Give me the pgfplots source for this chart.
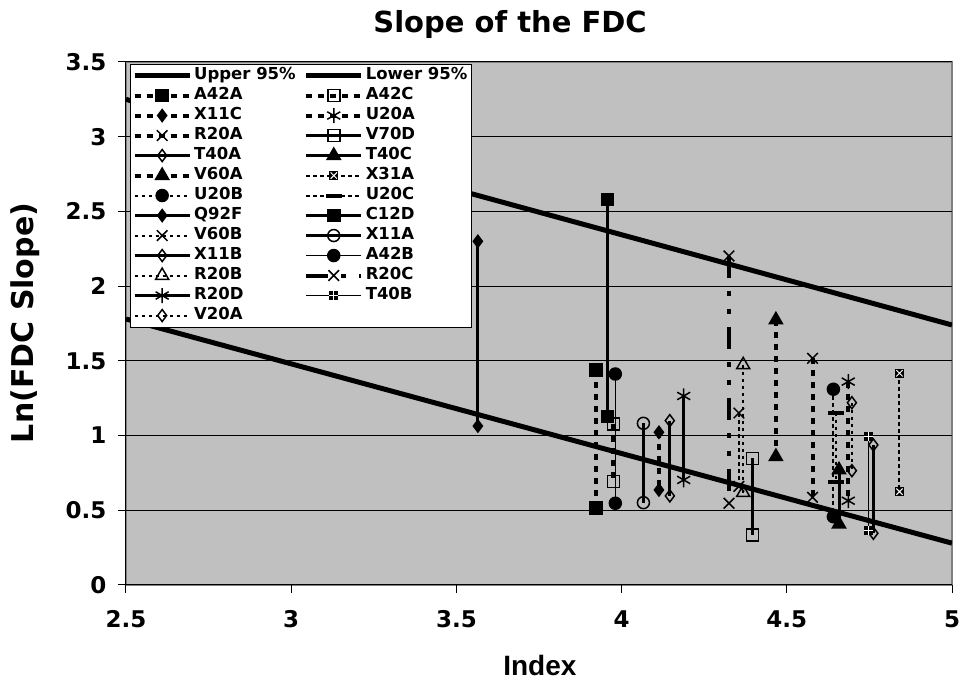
\documentclass[border=0pt]{standalone}
\usepackage{fontspec}
\setmainfont{DejaVu Sans}
\newfontfamily\arialfont{Liberation Sans}
\usepackage{pgfplots}
\pgfplotsset{compat=1.18}

\definecolor{plotbg}{RGB}{192,192,192}
\definecolor{boxgray}{RGB}{128,128,128}

% black square with a white x (X31A) and with a white + (T40B)
\pgfdeclareplotmark{xsq}{%
  \pgfpathrectangle{\pgfpoint{-\pgfplotmarksize}{-\pgfplotmarksize}}{\pgfpoint{2\pgfplotmarksize}{2\pgfplotmarksize}}%
  \pgfusepathqfill
  \begin{pgfscope}
  \pgfsetstrokecolor{white}\pgfsetlinewidth{1pt}%
  \pgfpathmoveto{\pgfpoint{-0.7\pgfplotmarksize}{-0.7\pgfplotmarksize}}%
  \pgfpathlineto{\pgfpoint{0.7\pgfplotmarksize}{0.7\pgfplotmarksize}}%
  \pgfpathmoveto{\pgfpoint{-0.7\pgfplotmarksize}{0.7\pgfplotmarksize}}%
  \pgfpathlineto{\pgfpoint{0.7\pgfplotmarksize}{-0.7\pgfplotmarksize}}%
  \pgfusepathqstroke
  \end{pgfscope}}
\pgfdeclareplotmark{psq}{%
  \pgfpathrectangle{\pgfpoint{-\pgfplotmarksize}{-\pgfplotmarksize}}{\pgfpoint{2\pgfplotmarksize}{2\pgfplotmarksize}}%
  \pgfusepathqfill
  \begin{pgfscope}
  \pgfsetstrokecolor{white}\pgfsetlinewidth{1pt}%
  \pgfpathmoveto{\pgfpoint{-\pgfplotmarksize}{0pt}}%
  \pgfpathlineto{\pgfpoint{\pgfplotmarksize}{0pt}}%
  \pgfpathmoveto{\pgfpoint{0pt}{\pgfplotmarksize}}%
  \pgfpathlineto{\pgfpoint{0pt}{-\pgfplotmarksize}}%
  \pgfusepathqstroke
  \end{pgfscope}}

\newcommand\tickf{\fontsize{23pt}{27pt}\selectfont\bfseries}
\newcommand\legf{\fontsize{16.5pt}{19pt}\selectfont\bfseries}

\pgfplotsset{
  ci/.style={black, line width=5pt, mark=none},
  sol/.style={black, line width=3pt, solid},
  thn/.style={black, line width=1.5pt, solid},
  dsh/.style={black, line width=4pt, dash pattern=on 6pt off 6pt},
  dot/.style={black, line width=2pt, dash pattern=on 3.5pt off 3.5pt},
  mk/.style={mark options={solid, line width=1.5pt, fill=black}, mark size=6pt},
}

\begin{document}
\begin{tikzpicture}[x=1pt,y=1pt]
\useasboundingbox (-126,-97) rectangle (835,585);
\begin{axis}[
    at={(0,0)}, anchor=south west,
    width=826pt, height=523pt, scale only axis,
    xmin=2.5, xmax=5, ymin=0, ymax=3.5,
    xtick={2.5,3,3.5,4,4.5,5},
    ytick={0,0.5,1,1.5,2,2.5,3,3.5},
    axis x line*=bottom, axis y line*=left,
    tick align=outside,
    major tick length=8pt,
    tick style={black, line width=1pt},
    axis line style={black, line width=1pt},
    axis background/.style={fill=plotbg, draw=boxgray, line width=1.5pt},
    ymajorgrids=true,
    grid style={black, line width=1pt},
    /pgf/number format/assume math mode=true,
    tick label style={font=\tickf},
    xticklabel style={yshift=-14pt},
    yticklabel style={xshift=-8pt},
    title={Slope of the FDC},
    title style={font=\fontsize{29pt}{34pt}\selectfont\bfseries, at={(axis description cs:0.465,1.06)}, anchor=center},
    xlabel={Index},
    xlabel style={font=\arialfont\fontsize{28pt}{32pt}\selectfont\bfseries, at={(axis description cs:0.501,-0.153)}, anchor=center},
    ylabel={Ln(FDC Slope)},
    ylabel style={font=\fontsize{30pt}{34pt}\selectfont\bfseries, at={(axis description cs:-0.1223,0.501)}, anchor=center},
    legend columns=2,
    legend cell align=left,
    legend image code/.code={\draw[mark repeat=2,mark phase=2] plot coordinates {(0pt,0pt) (27.5pt,0pt) (55pt,0pt)};},
    legend style={at={(rel axis cs:0.0048,0.996)}, anchor=north west, font=\legf,
      draw=black, fill=white, inner xsep=2pt, inner ysep=2pt, row sep=1.5pt,
      nodes={inner xsep=2pt, inner ysep=1.5pt, text height=12pt, text depth=3.5pt},
      /tikz/every even column/.append style={column sep=6pt}},
  ]

\addplot[ci] coordinates {(2.5,3.25) (5,1.74)};
\addlegendentry{Upper 95\%}
\addplot[ci] coordinates {(2.5,1.78) (5,0.28)};
\addlegendentry{Lower 95\%}

\addplot[dsh, mk, mark=square*] coordinates {(3.923,1.439) (3.923,0.515)};
\addlegendentry{A42A}
\addplot[dsh, mk, mark=square] coordinates {(3.975,1.078) (3.975,0.691)};
\addlegendentry{A42C}
\addplot[dsh, mk, mark=diamond*] coordinates {(4.113,1.022) (4.113,0.636)};
\addlegendentry{X11C}
\addplot[dsh, mk, mark=asterisk, mark size=7.5pt] coordinates {(4.686,1.361) (4.686,0.564)};
\addlegendentry{U20A}
\addplot[dsh, mk, mark=x, mark size=7.5pt] coordinates {(4.578,1.517) (4.578,0.587)};
\addlegendentry{R20A}
\addplot[sol, mk, mark=square] coordinates {(4.396,0.848) (4.396,0.335)};
\addlegendentry{V70D}
\addplot[sol, mk, mark=diamond] coordinates {(4.762,0.937) (4.762,0.346)};
\addlegendentry{T40A}
\addplot[sol, mk, mark=triangle*, mark size=7.5pt] coordinates {(4.658,0.770) (4.658,0.408)};
\addlegendentry{T40C}
\addplot[dsh, mk, mark=triangle*, mark size=7.5pt] coordinates {(4.467,1.774) (4.467,0.859)};
\addlegendentry{V60A}
\addplot[dot, mk, mark=xsq, mark size=4.5pt] coordinates {(4.841,1.417) (4.841,0.625)};
\addlegendentry{X31A}
\addplot[dot, mk, mark=*] coordinates {(4.641,1.310) (4.641,0.457)};
\addlegendentry{U20B}
\addplot[dot, mark=-, mark options={solid, line width=4pt}, mark size=8pt] coordinates {(4.648,1.153) (4.648,0.691)};
\addlegendentry{U20C}
\addplot[sol, mk, mark=diamond*] coordinates {(3.565,2.300) (3.565,1.064)};
\addlegendentry{Q92F}
\addplot[sol, mk, mark=square*] coordinates {(3.958,2.580) (3.958,1.127)};
\addlegendentry{C12D}
\addplot[dot, mk, mark=x, mark size=7.5pt] coordinates {(4.355,1.151) (4.355,0.660)};
\addlegendentry{V60B}
\addplot[sol, mk, mark=o] coordinates {(4.066,1.082) (4.066,0.551)};
\addlegendentry{X11A}
\addplot[sol, mk, mark=diamond] coordinates {(4.146,1.100) (4.146,0.596)};
\addlegendentry{X11B}
\addplot[thn, mk, mark=*] coordinates {(3.981,1.412) (3.981,0.547)};
\addlegendentry{A42B}
\addplot[dot, mk, mark=triangle, mark size=7.5pt] coordinates {(4.368,1.473) (4.368,0.618)};
\addlegendentry{R20B}
\addplot[black, line width=4pt, dash pattern=on 22pt off 13pt on 5pt off 13pt on 5pt off 13pt, mk, mark=x, mark size=7.5pt] coordinates {(4.325,2.202) (4.325,0.547)};
\addlegendentry{R20C}
\addplot[sol, mk, mark=asterisk, mark size=7.5pt] coordinates {(4.188,1.265) (4.188,0.703)};
\addlegendentry{R20D}
\addplot[thn, mk, mark=psq, mark size=4.5pt] coordinates {(4.747,0.993) (4.747,0.368)};
\addlegendentry{T40B}
\addplot[dot, mk, mark=diamond] coordinates {(4.697,1.220) (4.697,0.765)};
\addlegendentry{V20A}

\end{axis}
\end{tikzpicture}
\end{document}
